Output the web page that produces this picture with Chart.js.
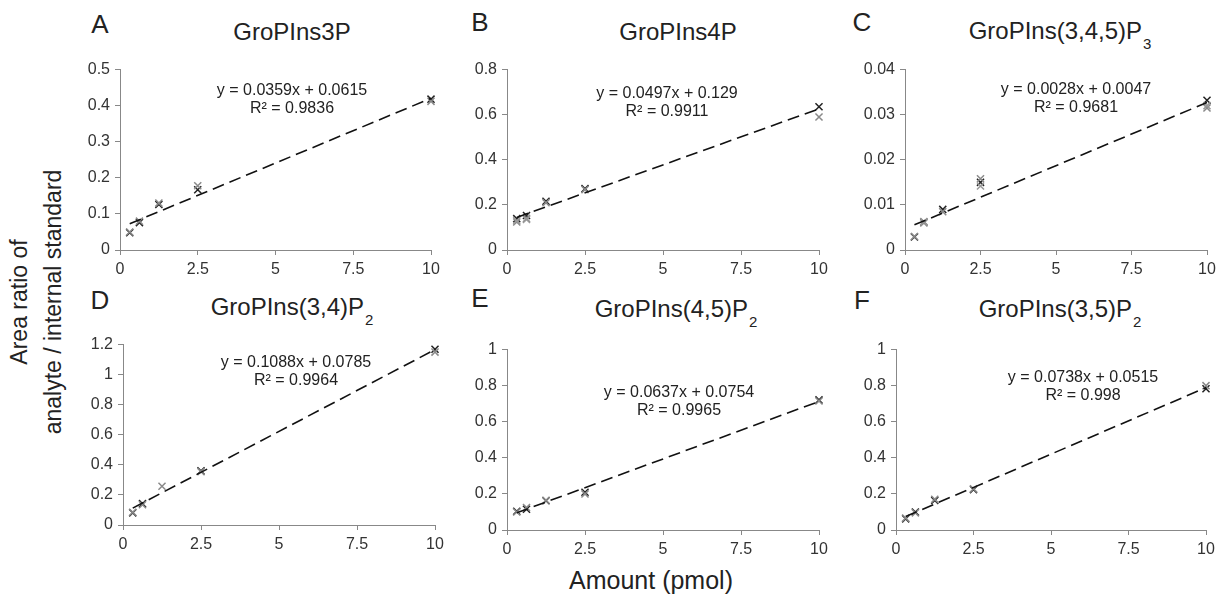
<!DOCTYPE html>
<html lang="en">
<head>
<meta charset="UTF-8">
<title>Calibration curves</title>
<script src="https://cdn.jsdelivr.net/npm/chart.js"></script>
<style>
  body { margin: 0; background: #fff; font-family: "Liberation Sans", Arial, sans-serif; color: #222; }
  #fig { position: relative; width: 1225px; height: 597px; overflow: hidden; }
  #fig canvas { position: absolute; }
  .lbl { position: absolute; white-space: nowrap; transform: translate(-50%, -50%); }
  .letter { font-size: 26px; }
  .ttl { font-size: 24px; }
  .ttl sub { font-size: 15px; vertical-align: -10px; margin-left: 1px; }
  .eq { font-size: 16px; text-align: center; line-height: 18px; }
  .axt { font-size: 25px; }
  .ylab { position: absolute; left: 36px; top: 302px; transform: translate(-50%, -50%) rotate(-90deg);
          font-size: 23px; text-align: center; line-height: 34px; white-space: nowrap; }
</style>
</head>
<body>
<div id="fig">
  <div class="ylab">Area ratio of<br>analyte / internal standard</div>
  <div class="lbl axt" style="left:651px; top:580px;">Amount (pmol)</div>
</div>
<script>
// amounts loaded (pmol), same for every panel
const amounts = [0.3125, 0.625, 1.25, 2.5, 10];
const xTicks = [0, 2.5, 5, 7.5, 10];

const letters = ['A', 'B', 'C', 'D', 'E', 'F'];
const titles = ['GroPIns3P', 'GroPIns4P', 'GroPIns(3,4,5)P<sub>3</sub>',
                'GroPIns(3,4)P<sub>2</sub>', 'GroPIns(4,5)P<sub>2</sub>', 'GroPIns(3,5)P<sub>2</sub>'];
const slopes = [0.0359, 0.0497, 0.0028, 0.1088, 0.0637, 0.0738];
const intercepts = [0.0615, 0.129, 0.0047, 0.0785, 0.0754, 0.0515];
const r2 = ['0.9836', '0.9911', '0.9681', '0.9964', '0.9965', '0.998'];
const yMax = [0.5, 0.8, 0.04, 1.2, 1, 1];
const yStep = [0.1, 0.2, 0.01, 0.2, 0.2, 0.2];

// replicate measurements, dark markers
const darkA = [0.048, 0.076, 0.126, 0.167, 0.418];
const darkB = [0.139, 0.153, 0.216, 0.272, 0.635];
const darkC = [0.0029, 0.0062, 0.0090, 0.0150, 0.0332];
const darkD = [0.081, 0.142, null, 0.36, 1.169];
const darkE = [0.104, 0.115, 0.162, 0.209, 0.721];
const darkF = [0.062, 0.1, 0.164, 0.224, 0.783];
// replicate measurements, grey markers
const greyA = [0.05, 0.08, 0.13, 0.178, 0.412];
const greyB = [0.124, 0.14, 0.21, 0.268, 0.59];
const greyC = [0.003, 0.006, 0.0085, 0.0158, 0.0315];
const greyD = [0.085, 0.135, 0.258, 0.355, 1.15];
const greyE = [0.1, 0.125, 0.165, 0.2, 0.715];
const greyF = [0.066, 0.095, 0.17, 0.228, 0.80];
// third replicate where visible
const grey2B = [0.13, 0.135, null, null, null];
const grey2C = [null, 0.0063, null, 0.0142, 0.032];

const dark = [darkA, darkB, darkC, darkD, darkE, darkF];
const grey = [greyA, greyB, greyC, greyD, greyE, greyF];
const grey2 = [null, grey2B, grey2C, null, null, null];

// plot area of each panel in page pixels: left, right, top, bottom
const boxes = [
  [120, 431, 67, 250], [507, 819, 67, 250], [905, 1207, 67, 250],
  [123, 435, 342, 525], [507, 819, 347, 530], [896, 1206, 347, 530]
];
// letter pos, title pos, equation pos
const letterPos = [[100, 24], [480, 22], [862, 22], [100, 300], [480, 298], [862, 300]];
const titlePos = [[292, 32], [678, 32], [1060, 34], [292, 310], [676, 312], [1060, 312]];
const eqPos = [[292, 99], [667, 102], [1076, 98], [296, 371], [679, 401], [1083, 386]];

const padL = 60, padR = 16, padT = 12, padB = 30;
const fig = document.getElementById('fig');

function pts(vals) {
  const out = [];
  vals.forEach((v, i) => { if (v !== null) out.push({ x: amounts[i], y: v }); });
  return out;
}

function addText(cls, pos, html) {
  const d = document.createElement('div');
  d.className = 'lbl ' + cls;
  d.style.left = pos[0] + 'px';
  d.style.top = pos[1] + 'px';
  d.innerHTML = html;
  fig.appendChild(d);
}

function marks(data, color) {
  return {
    type: 'scatter', data: data, pointStyle: 'crossRot', pointRadius: 5,
    borderColor: color, borderWidth: 1.5, clip: false
  };
}

boxes.forEach((b, i) => {
  const cv = document.createElement('canvas');
  const w = b[1] - b[0] + padL + padR;
  const h = b[3] - b[2] + padT + padB;
  cv.width = w; cv.height = h;
  cv.style.left = (b[0] - padL) + 'px';
  cv.style.top = (b[2] - padT) + 'px';
  cv.style.width = w + 'px';
  cv.style.height = h + 'px';
  fig.appendChild(cv);

  addText('letter', letterPos[i], letters[i]);
  addText('ttl', titlePos[i], titles[i]);
  addText('eq', eqPos[i], 'y = ' + slopes[i] + 'x + ' + intercepts[i] + '<br>R² = ' + r2[i]);

  const x0 = amounts[0], x1 = amounts[amounts.length - 1];
  const datasets = [
    {
      type: 'line',
      data: [{ x: x0, y: slopes[i] * x0 + intercepts[i] }, { x: x1, y: slopes[i] * x1 + intercepts[i] }],
      borderColor: '#111', borderWidth: 1.6, borderDash: [12, 6], pointRadius: 0, fill: false, clip: false
    },
    marks(pts(grey[i]), '#8a8a8a'),
    marks(pts(dark[i]), '#222')
  ];
  if (grey2[i]) datasets.splice(1, 0, marks(pts(grey2[i]), '#999'));

  new Chart(cv, {
    type: 'scatter',
    data: { datasets },
    options: {
      responsive: false,
      animation: false,
      layout: { padding: { top: padT, right: padR, left: 0, bottom: 0 } },
      plugins: { legend: { display: false }, tooltip: { enabled: false } },
      scales: {
        x: {
          type: 'linear', min: 0, max: 10,
          afterFit: s => { s.height = padB; },
          afterBuildTicks: s => { s.ticks = xTicks.map(v => ({ value: v })); },
          grid: { drawOnChartArea: false, drawTicks: true, tickLength: 5, color: '#888' },
          border: { color: '#888', width: 1 },
          ticks: { padding: 5, color: '#333', font: { family: 'Liberation Sans', size: 16 }, maxRotation: 0,
                   callback: v => String(parseFloat(Number(v).toFixed(4))) }
        },
        y: {
          min: 0, max: yMax[i],
          afterFit: s => { s.width = padL; },
          grid: { drawOnChartArea: false, drawTicks: true, tickLength: 5, color: '#888' },
          border: { color: '#888', width: 1 },
          ticks: { stepSize: yStep[i], padding: 5, color: '#333', font: { family: 'Liberation Sans', size: 16 },
                   callback: v => String(parseFloat(Number(v).toFixed(4))) }
        }
      }
    }
  });
});
</script>
</body>
</html>
